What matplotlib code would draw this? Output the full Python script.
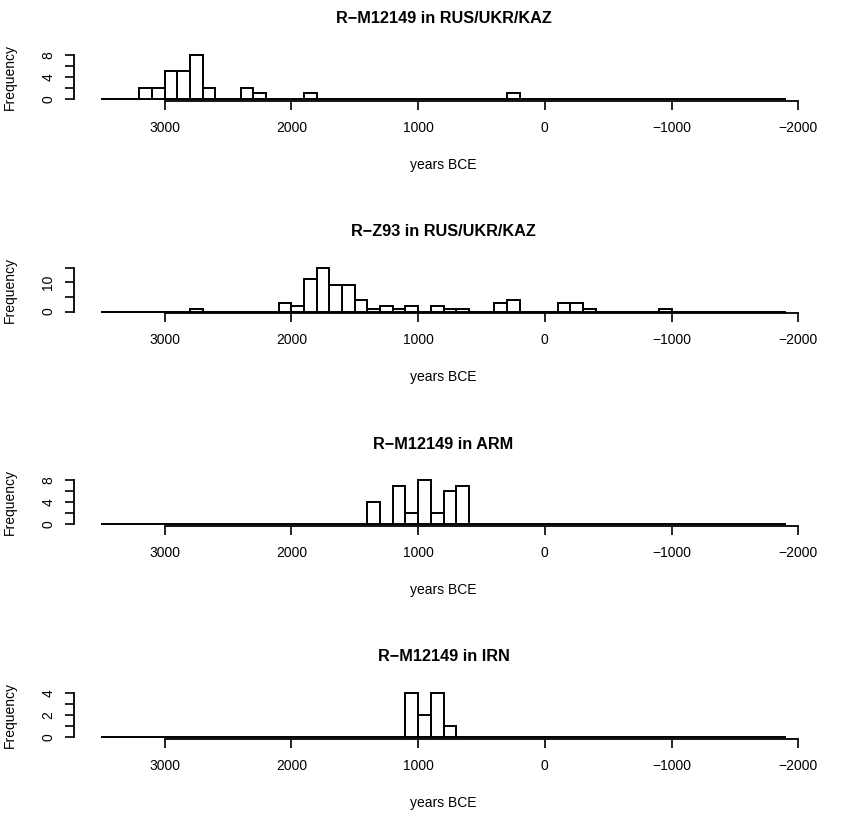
import numpy as np
import matplotlib
matplotlib.use('Agg')
import matplotlib.pyplot as plt

plt.rcParams['font.family'] = ['Liberation Sans', 'DejaVu Sans']

# 100-year bins from 3500 BCE down to 1900 CE (-1900)
bin_edges = np.arange(-1900, 3501, 100)

titles = ['R\u2212M12149 in RUS/UKR/KAZ', 'R\u2212Z93 in RUS/UKR/KAZ',
          'R\u2212M12149 in ARM', 'R\u2212M12149 in IRN']

# upper edge (older end) of each non-empty bin and its count
rus_m12149_years = [3200, 3100, 3000, 2900, 2800, 2700, 2400, 2300, 1900, 300]
rus_m12149_counts = [2, 2, 5, 5, 8, 2, 2, 1, 1, 1]

rus_z93_years = [2800, 2100, 2000, 1900, 1800, 1700, 1600, 1500, 1400, 1300, 1200,
                 1100, 900, 800, 700, 400, 300, -100, -200, -300, -900]
rus_z93_counts = [1, 3, 2, 11, 15, 9, 9, 4, 1, 2, 1, 2, 2, 1, 1, 3, 4, 3, 3, 1, 1]

arm_years = [1400, 1200, 1100, 1000, 900, 800, 700]
arm_counts = [4, 7, 2, 8, 2, 6, 7]

irn_years = [1100, 1000, 900, 800]
irn_counts = [4, 2, 4, 1]

x_ticks = [3000, 2000, 1000, 0, -1000, -2000]
x_tick_labels = ['3000', '2000', '1000', '0', '\u22121000', '\u22122000']

y_maxes = [8, 15, 8, 4]
y_ticks = [[0, 2, 4, 6, 8], [0, 5, 10, 15], [0, 2, 4, 6, 8], [0, 1, 2, 3, 4]]
y_tick_labels = [['0', '', '4', '', '8'], ['0', '', '10', ''],
                 ['0', '', '4', '', '8'], ['0', '', '2', '', '4']]

panels = [(rus_m12149_years, rus_m12149_counts), (rus_z93_years, rus_z93_counts),
          (arm_years, arm_counts), (irn_years, irn_counts)]


def full_counts(years, counts):
    c = np.zeros(len(bin_edges) - 1)
    lefts = list(bin_edges[:-1])
    for y, n in zip(years, counts):
        c[lefts.index(y - 100)] = n
    return c


W, H = 848, 816
fig = plt.figure(figsize=(W / 100, H / 100), dpi=100)

left_px, right_px = 74, 813
plot_h = 47.5

for i, (years, counts) in enumerate(panels):
    top = 53 + 212.8 * i
    bottom = top + plot_h
    ax = fig.add_axes([left_px / W, 1 - bottom / H, (right_px - left_px) / W, plot_h / H])

    c = full_counts(years, counts)
    ax.bar(bin_edges[:-1], c, width=100, align='edge', color='white',
           edgecolor='black', linewidth=1.4)

    ymax = y_maxes[i]
    ax.set_xlim(3716, -2116)
    ax.set_ylim(-0.04 * ymax, 1.04 * ymax)

    ax.spines['top'].set_visible(False)
    ax.spines['right'].set_visible(False)
    ax.spines['left'].set_bounds(0, ymax)
    ax.spines['bottom'].set_bounds(-2000, 3000)
    ax.spines['left'].set_linewidth(1.3)
    ax.spines['bottom'].set_linewidth(1.3)

    ax.set_xticks(x_ticks)
    ax.set_xticklabels(x_tick_labels, fontsize=10)
    ax.set_yticks(y_ticks[i])
    ax.set_yticklabels(y_tick_labels[i], fontsize=10, rotation=90, va='center')
    ax.tick_params(axis='x', length=6.5, width=1.2, pad=8)
    ax.tick_params(axis='y', length=6.5, width=1.2, pad=7)

    cx = (left_px + right_px) / 2 / W
    fig.text(cx, 1 - (top - 34.5) / H, titles[i], ha='center', va='center',
             fontsize=11.7, fontweight='bold')
    fig.text(cx, 1 - (bottom + 64) / H, 'years BCE', ha='center', va='center', fontsize=10)
    fig.text(10 / W, 1 - (top + plot_h / 2) / H, 'Frequency', rotation=90,
             ha='center', va='center', fontsize=10)

fig.savefig('out.png', dpi=100)
